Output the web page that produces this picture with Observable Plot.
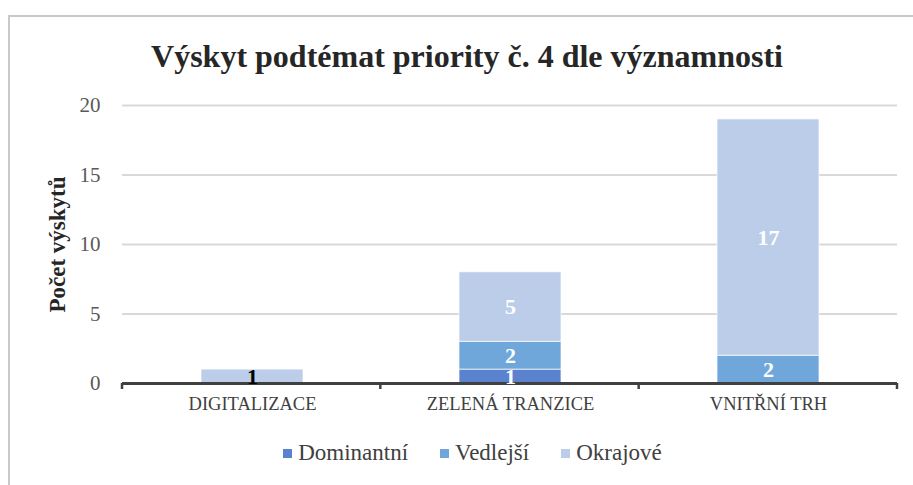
<!DOCTYPE html>
<html>
<head>
<meta charset="utf-8">
<script src="https://cdn.jsdelivr.net/npm/d3@7"></script>
<script src="https://cdn.jsdelivr.net/npm/@observablehq/plot@0.6"></script>
<style>
  html, body { margin: 0; padding: 0; background: #fff; }
  body { width: 913px; height: 485px; position: relative; overflow: hidden; font-family: 'Liberation Serif', serif; }
  #frame { position: absolute; left: 8px; top: 15px; width: 1000px; height: 600px; border: 2px solid #c9c9c9; box-sizing: border-box; }
  #title { position: absolute; left: 0; top: 40px; width: 934px; text-align: center; font-size: 32px; line-height: 1; font-weight: bold; color: #262626; white-space: nowrap; font-family: 'Liberation Serif', serif; }
  #chart { position: absolute; left: 0; top: 90px; }
  #legend { position: absolute; left: 0; top: 440px; width: 945px; display: flex; justify-content: center; align-items: center; font-size: 23px; color: #404040; line-height: 26px; font-family: 'Liberation Serif', serif; }
  .item { display: flex; align-items: center; margin: 0 16px; }
  .sw { width: 9px; height: 9px; margin-right: 6px; }
</style>
</head>
<body>
<div id="frame"></div>
<div id="title">Výskyt podtémat priority č. 4 dle významnosti</div>
<div id="chart"></div>
<div id="legend"></div>
<script>
const categories = ["DIGITALIZACE", "ZELENÁ TRANZICE", "VNITŘNÍ TRH"];
const seriesNames = ["Dominantní", "Vedlejší", "Okrajové"];
const dominantni = [0, 1, 0];
const vedlejsi = [0, 2, 2];
const okrajove = [1, 5, 17];
const yTicks = [0, 5, 10, 15, 20];
const colors = ["#5b82cc", "#70a7db", "#bccdea"];

const seriesValues = [dominantni, vedlejsi, okrajove];
const rows = [];
categories.forEach((cat, i) => {
  seriesNames.forEach((s, j) => rows.push({cat, series: s, value: seriesValues[j][i]}));
});

const SERIF = "'Liberation Serif', serif";

const boundaryTicks = (index, scales, values, dims) => {
  const n = categories.length;
  const x0 = dims.marginLeft, x1 = dims.width - dims.marginRight;
  const y0 = scales.y(0);
  const g = d3.create("svg:g");
  for (let i = 0; i <= n; i++) {
    const xx = x0 + (x1 - x0) * i / n;
    g.append("line").attr("x1", xx).attr("x2", xx).attr("y1", y0).attr("y2", y0 + 6)
      .attr("stroke", "#404040").attr("stroke-width", 2.5);
  }
  return g.node();
};

const plot = Plot.plot({
  width: 913,
  height: 340,
  marginLeft: 122,
  marginRight: 16,
  marginTop: 15,
  marginBottom: 47,
  style: {fontFamily: SERIF, background: "transparent"},
  x: {domain: categories, paddingInner: 0.605, paddingOuter: 0.3025},
  y: {domain: [0, 20]},
  color: {domain: seriesNames, range: colors},
  marks: [
    Plot.gridY(yTicks.filter(t => t > 0), {stroke: "#d9d9d9", strokeOpacity: 1, strokeWidth: 2}),
    Plot.axisY(yTicks, {tickSize: 0, tickPadding: 22, fontSize: 21, fontFamily: SERIF, label: null, color: "#595959"}),
    Plot.axisX({tickSize: 0, tickPadding: 13, fontSize: 18.5, fontFamily: SERIF, label: null, color: "#404040"}),
    Plot.barY(rows, {x: "cat", y: "value", fill: "series", stroke: "#ffffff", strokeWidth: 1, strokeOpacity: 0.7}),
    Plot.ruleY([0], {stroke: "#404040", strokeWidth: 3}),
    boundaryTicks,
    Plot.text(rows, Plot.stackY({
      x: "cat", y: "value", z: "series",
      text: d => String(d.value),
      filter: d => d.value > 0,
      fill: d => d.cat === categories[0] ? "#000000" : "#ffffff",
      fontSize: 22, fontWeight: "bold", fontFamily: SERIF
    })),
    Plot.text(["Počet výskytů"], {frameAnchor: "left", textAnchor: "middle", dx: -65, rotate: -90, fontSize: 23, fontWeight: "bold", fontFamily: SERIF, fill: "#262626"})
  ]
});
document.getElementById("chart").appendChild(plot);

const legend = document.getElementById("legend");
seriesNames.forEach((s, i) => {
  const item = document.createElement("div");
  item.className = "item";
  const sw = document.createElement("div");
  sw.className = "sw";
  sw.style.background = colors[i];
  const t = document.createElement("span");
  t.textContent = s;
  item.appendChild(sw);
  item.appendChild(t);
  legend.appendChild(item);
});
</script>
</body>
</html>
